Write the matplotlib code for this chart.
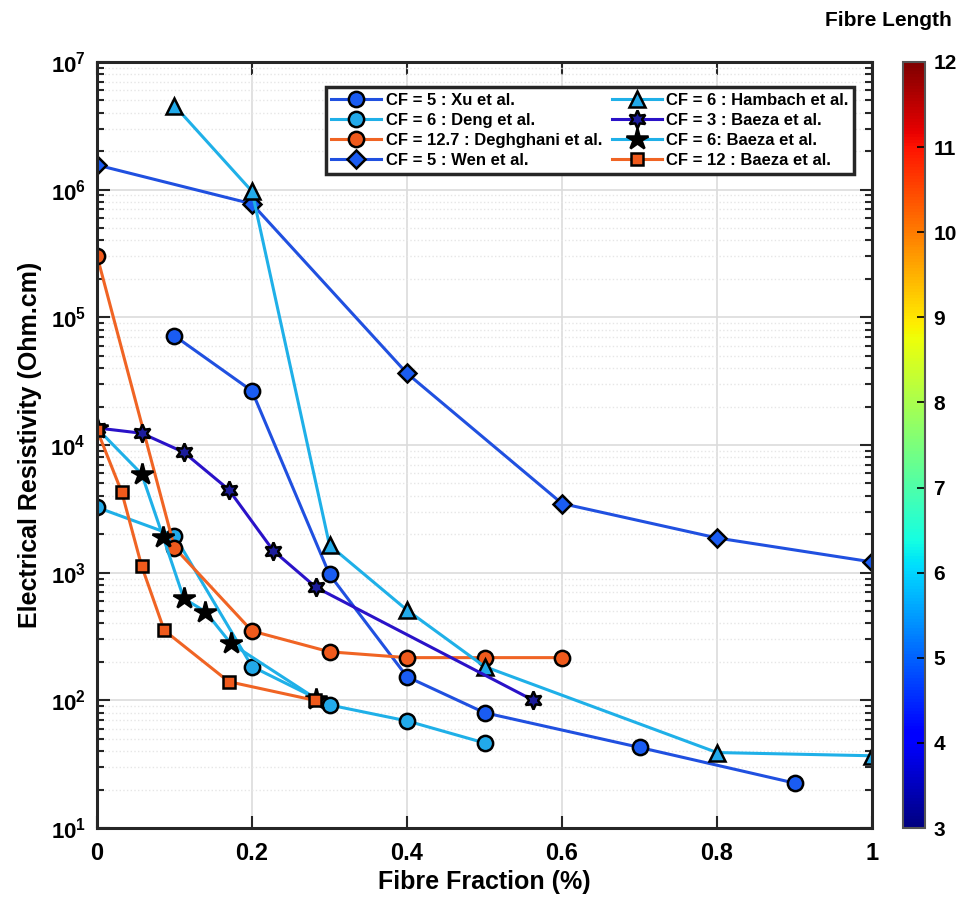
import matplotlib
matplotlib.use("Agg")
import matplotlib.pyplot as plt
import matplotlib as mpl
from matplotlib.ticker import LogLocator, NullFormatter

plt.rcParams['font.family'] = ['Liberation Sans', 'DejaVu Sans']
plt.rcParams['font.weight'] = 'bold'
plt.rcParams['mathtext.default'] = 'bf'

# data
xu_x = [0.1, 0.2, 0.3, 0.4, 0.5, 0.7, 0.9]
xu_y = [71600, 26500, 968, 153, 80, 42.8, 22.5]

deng_x = [0, 0.1, 0.2, 0.3, 0.4, 0.5]
deng_y = [3250, 1950, 184, 92, 69, 46.4]

degh_x = [0, 0.1, 0.2, 0.3, 0.4, 0.5, 0.6]
degh_y = [3.04e5, 1570, 349, 240, 216, 216, 216]

wen_x = [0, 0.2, 0.4, 0.6, 0.8, 1.0]
wen_y = [1.56e6, 7.74e5, 3.64e4, 3480, 1870, 1213]

hamb_x = [0.1, 0.2, 0.3, 0.4, 0.5, 0.8, 1.0]
hamb_y = [4.55e6, 9.7e5, 1640, 509, 184, 39, 36.8]

baeza3_x = [0, 0.0577, 0.112, 0.170, 0.2275, 0.2826, 0.563]
baeza3_y = [13600, 12360, 8770, 4470, 1486, 767, 100]

baeza6_x = [0, 0.0577, 0.0855, 0.112, 0.140, 0.1725, 0.2826]
baeza6_y = [13500, 5920, 1890, 628, 494, 280, 103]

baeza12_x = [0, 0.0319, 0.0577, 0.0868, 0.170, 0.281]
baeza12_y = [13150, 4280, 1124, 353, 140, 100]

labels = ['CF = 5 : Xu et al.', 'CF = 6 : Deng et al.', 'CF = 12.7 : Deghghani et al.',
          'CF = 5 : Wen et al.', 'CF = 6 : Hambach et al.', 'CF = 3 : Baeza et al.',
          'CF = 6: Baeza et al.', 'CF = 12 : Baeza et al.']

blue = '#2050e0'
blue_face = '#1a5cf2'
cyan = '#1fb0e8'
cyan_face = '#22aaea'
orange = '#f06424'
orange_face = '#f05a1c'
navy = '#2a12c8'
navy_face = '#1c1c9c'

fig = plt.figure(figsize=(9.67, 9.10), dpi=100)
ax = fig.add_axes([0.1003, 0.0901, 0.8015, 0.8418])

kw = dict(lw=2.2, mec='black', mew=1.8)
ax.plot(xu_x, xu_y, color=blue, marker='o', ms=11, mfc=blue_face, label=labels[0], **kw)
ax.plot(deng_x, deng_y, color=cyan, marker='o', ms=11, mfc=cyan_face, label=labels[1], **kw)
ax.plot(degh_x, degh_y, color=orange, marker='o', ms=11, mfc=orange_face, label=labels[2], **kw)
ax.plot(wen_x, wen_y, color=blue, marker='D', ms=9, mfc=blue_face, label=labels[3], **kw)
ax.plot(hamb_x, hamb_y, color=cyan, marker='^', ms=12, mfc=cyan_face, label=labels[4], **kw)
ax.plot(baeza3_x, baeza3_y, color=navy, marker=(6, 1, 0), ms=13, mfc=navy_face, label=labels[5], **kw)
ax.plot(baeza6_x, baeza6_y, color=cyan, marker='*', ms=16, mfc='black', label=labels[6], **kw)
ax.plot(baeza12_x, baeza12_y, color=orange, marker='s', ms=8, mfc=orange_face, label=labels[7], **kw)

ax.set_yscale('log')
ax.set_xlim(0, 1)
ax.set_ylim(10, 1e7)
ax.set_xticks([0, 0.2, 0.4, 0.6, 0.8, 1])
ax.set_xticklabels(['0', '0.2', '0.4', '0.6', '0.8', '1'])
ax.yaxis.set_major_locator(LogLocator(base=10, numticks=10))
ax.yaxis.set_minor_locator(LogLocator(base=10, subs=range(2, 10), numticks=20))
ax.yaxis.set_minor_formatter(NullFormatter())

ax.grid(True, which='major', color='#dcdcdc', lw=1.2)
ax.grid(True, which='minor', axis='y', color='#e6e6e6', lw=1.0, ls=':')
ax.set_axisbelow(True)

ax.tick_params(which='both', direction='in', top=True, right=True, width=1.5, color='#262626')
ax.tick_params(which='major', length=9)
ax.tick_params(which='minor', length=5)
ax.tick_params(axis='y', labelsize=16, pad=8)
ax.tick_params(axis='x', labelsize=17, pad=10)
for s in ax.spines.values():
    s.set_linewidth(2.2)
    s.set_color('#262626')

ax.set_xlabel('Fibre Fraction (%)', fontsize=18, fontweight='bold', labelpad=4)
ax.set_ylabel('Electrical Resistivity (Ohm.cm)', fontsize=18, fontweight='bold', labelpad=6)

leg = ax.legend(ncol=2, loc='upper right', bbox_to_anchor=(0.988, 0.978),
                frameon=True, fancybox=False, framealpha=1, edgecolor='#262626',
                handlelength=3.0, columnspacing=0.6, handletextpad=0.25, labelspacing=0.3,
                borderpad=0.35, prop={'weight': 'bold', 'size': 12})
leg.get_frame().set_linewidth(2.5)

cax = fig.add_axes([0.934, 0.0901, 0.0228, 0.8418])
norm = mpl.colors.Normalize(vmin=3, vmax=12)
cb = mpl.colorbar.ColorbarBase(cax, cmap=plt.get_cmap('jet'), norm=norm, ticks=range(3, 13))
cb.ax.tick_params(labelsize=15, direction='in', length=6, width=1.2, pad=6)
cb.outline.set_linewidth(1.5)
cb.outline.set_edgecolor('#555555')
fig.text(0.984, 0.978, 'Fibre Length', ha='right', va='center', fontsize=15, fontweight='bold')

fig.savefig('out.png', dpi=100)
